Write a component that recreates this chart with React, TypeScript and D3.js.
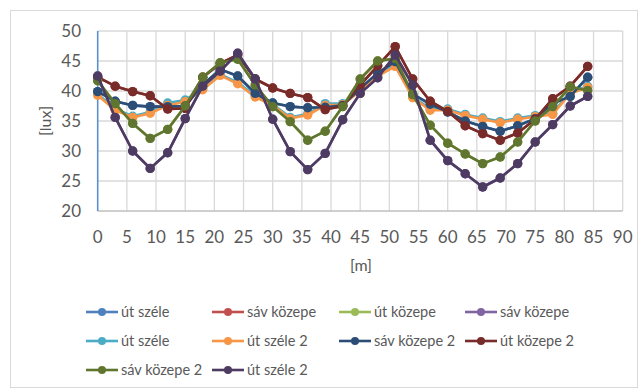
import React from "react";
import * as d3 from "d3";

// distance along the road [m]
const positions = [0, 3, 6, 9, 12, 15, 18, 21, 24, 27, 30, 33, 36, 39, 42, 45, 48, 51, 54, 57, 60, 63, 66, 69, 72, 75, 78, 81, 84];

const xTicks = [0, 5, 10, 15, 20, 25, 30, 35, 40, 45, 50, 55, 60, 65, 70, 75, 80, 85, 90];
const yTicks = [20, 25, 30, 35, 40, 45, 50];

// illuminance [lux] per measurement line
const utSzele1 = [39.9, 38.3, 37.6, 37.4, 37.4, 37.5, 41.0, 43.6, 42.5, 39.6, 38.0, 37.4, 37.2, 37.3, 37.6, 40.4, 43.0, 44.9, 39.5, 37.8, 36.5, 35.0, 34.1, 33.3, 34.2, 35.4, 37.9, 39.1, 42.3];
const savKozepe1 = [42.3, 40.8, 39.9, 39.2, 37.0, 37.1, 42.3, 44.6, 46.0, 42.0, 40.5, 39.6, 38.9, 36.9, 37.5, 41.0, 44.2, 47.4, 42.0, 38.3, 36.6, 34.2, 32.9, 31.8, 33.0, 35.3, 38.7, 40.8, 44.1];
const utKozepe1 = [41.7, 37.9, 34.6, 32.1, 33.6, 37.5, 42.3, 44.7, 45.3, 41.0, 37.4, 34.9, 31.8, 33.3, 37.4, 42.0, 45.0, 45.4, 39.4, 34.3, 31.3, 29.5, 27.9, 29.0, 31.5, 35.0, 37.4, 40.7, 40.1];
const savKozepe1b = [42.5, 35.6, 30.0, 27.1, 29.7, 35.4, 40.8, 43.3, 46.3, 42.0, 35.3, 29.9, 26.9, 29.6, 35.2, 39.6, 42.2, 46.0, 41.0, 31.8, 28.4, 26.2, 24.0, 25.5, 27.9, 31.5, 34.4, 37.5, 39.1];
const utSzele1b = [39.5, 37.0, 35.8, 36.5, 38.0, 38.5, 40.4, 42.8, 41.4, 39.2, 37.8, 35.6, 36.2, 37.9, 37.9, 40.2, 42.7, 44.3, 39.1, 37.0, 37.0, 36.1, 35.5, 34.9, 35.5, 35.9, 36.3, 39.8, 40.8];
const utSzele2 = [39.3, 36.8, 35.6, 36.3, 37.6, 38.2, 40.2, 42.6, 41.2, 39.0, 37.6, 35.4, 36.0, 37.6, 37.7, 40.0, 42.5, 44.1, 38.9, 36.8, 36.8, 35.9, 35.3, 34.7, 35.3, 35.7, 36.1, 39.6, 40.6];
const savKozepe2 = [39.9, 38.3, 37.6, 37.4, 37.4, 37.5, 41.0, 43.6, 42.5, 39.6, 38.0, 37.4, 37.2, 37.3, 37.6, 40.4, 43.0, 44.9, 39.5, 37.8, 36.5, 35.0, 34.1, 33.3, 34.2, 35.4, 37.9, 39.1, 42.3];
const utKozepe2 = [42.3, 40.8, 39.9, 39.2, 37.0, 37.1, 42.3, 44.6, 46.0, 42.0, 40.5, 39.6, 38.9, 36.9, 37.5, 41.0, 44.2, 47.4, 42.0, 38.3, 36.6, 34.2, 32.9, 31.8, 33.0, 35.3, 38.7, 40.8, 44.1];
const savKozepe2b = [41.7, 37.9, 34.6, 32.1, 33.6, 37.5, 42.3, 44.7, 45.3, 41.0, 37.4, 34.9, 31.8, 33.3, 37.4, 42.0, 45.0, 45.4, 39.4, 34.3, 31.3, 29.5, 27.9, 29.0, 31.5, 35.0, 37.4, 40.7, 40.1];
const utSzele2b = [42.5, 35.6, 30.0, 27.1, 29.7, 35.4, 40.8, 43.3, 46.3, 42.0, 35.3, 29.9, 26.9, 29.6, 35.2, 39.6, 42.2, 46.0, 41.0, 31.8, 28.4, 26.2, 24.0, 25.5, 27.9, 31.5, 34.4, 37.5, 39.1];

const seriesNames = ["út széle", "sáv közepe", "út közepe", "sáv közepe", "út széle", "út széle 2", "sáv közepe 2", "út közepe 2", "sáv közepe 2", "út széle 2"];
const seriesValues = [utSzele1, savKozepe1, utKozepe1, savKozepe1b, utSzele1b, utSzele2, savKozepe2, utKozepe2, savKozepe2b, utSzele2b];
const seriesColors = ["#4F81BD", "#C0504D", "#9BBB59", "#8064A2", "#4BACC6", "#F79646", "#2C4D75", "#772C2A", "#5F7530", "#4D3B62"];

const W = 641;
const H = 390;
const FONT = "Lato, 'Open Sans', sans-serif";
const TEXT = "#595959";

export default function App() {
  const x = d3.scaleLinear().domain([0, 90]).range([97.7, 622.7]);
  const y = d3.scaleLinear().domain([20, 50]).range([211, 31]);

  const line = d3
    .line<number>()
    .x((_, i) => x(positions[i]))
    .y((v) => y(v));

  const legendCols = [102, 228, 355, 481];
  const legendRows = [312, 341, 370];

  return (
    <svg
      width={W}
      height={H}
      style={{ position: "absolute", left: 0, top: 0, background: "#fff" }}
      fontFamily={FONT}
    >
      <rect x={10.5} y={10.5} width={627} height={377} fill="#fff" stroke="#d9d9d9" strokeWidth={1} />

      {/* gridlines */}
      {yTicks.slice(1).map((t) => (
        <line key={"hy" + t} x1={x(0)} x2={x(90)} y1={y(t)} y2={y(t)} stroke="#d9d9d9" strokeWidth={1.3} />
      ))}
      {xTicks.slice(1).map((t) => (
        <line key={"vx" + t} x1={x(t)} x2={x(t)} y1={y(20)} y2={y(50)} stroke="#d9d9d9" strokeWidth={1.3} />
      ))}
      <line x1={x(0)} x2={x(90)} y1={y(20)} y2={y(20)} stroke="#bfbfbf" strokeWidth={1.5} />
      <line x1={x(0)} x2={x(0)} y1={y(20)} y2={y(50)} stroke="#5B8FCF" strokeWidth={1.6} />

      {/* tick labels */}
      {yTicks.map((t) => (
        <text key={"yl" + t} x={81} y={y(t)} dy="0.36em" textAnchor="end" fontSize={17} fill={TEXT}>
          {t}
        </text>
      ))}
      {xTicks.map((t) => (
        <text key={"xl" + t} x={x(t)} y={237} dy="0.36em" textAnchor="middle" fontSize={17} fill={TEXT}>
          {t}
        </text>
      ))}
      <text x={361} y={265} dy="0.36em" textAnchor="middle" fontSize={16} fill={TEXT}>
        [m]
      </text>
      <text
        transform={`translate(45,121) rotate(-90)`}
        dy="0.36em"
        textAnchor="middle"
        fontSize={16}
        fill={TEXT}
      >
        [lux]
      </text>

      {/* series */}
      {seriesValues.map((vals, si) => (
        <g key={"s" + si}>
          <path d={line(vals) || ""} fill="none" stroke={seriesColors[si]} strokeWidth={2.6} strokeLinejoin="round" />
          {vals.map((v, i) => (
            <circle key={i} cx={x(positions[i])} cy={y(v)} r={4.7} fill={seriesColors[si]} />
          ))}
        </g>
      ))}

      {/* legend */}
      {seriesNames.map((name, i) => {
        const cx = legendCols[i % 4];
        const cy = legendRows[Math.floor(i / 4)];
        return (
          <g key={"lg" + i}>
            <line x1={cx - 16} x2={cx + 16} y1={cy} y2={cy} stroke={seriesColors[i]} strokeWidth={2.6} />
            <circle cx={cx} cy={cy} r={4} fill={seriesColors[i]} />
            <text x={cx + 19} y={cy} dy="0.36em" fontSize={14.5} fill={TEXT}>
              {name}
            </text>
          </g>
        );
      })}
    </svg>
  );
}
